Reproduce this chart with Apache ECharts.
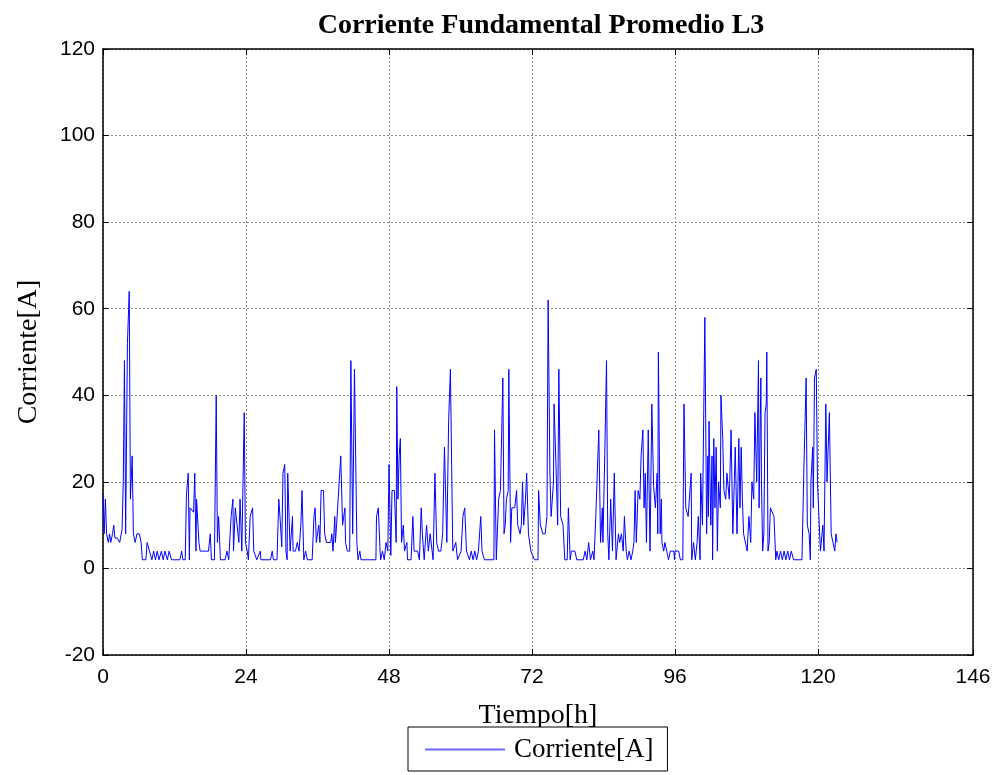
<!DOCTYPE html>
<html>
<head>
<meta charset="utf-8">
<script src="https://cdn.jsdelivr.net/npm/echarts@6/dist/echarts.min.js"></script>
<style>
html, body { margin: 0; padding: 0; background: #fff; }
#echarts { width: 998px; height: 775px; }
</style>
</head>
<body>
<div id="echarts"></div>
<script>
// datos: [tiempo h, corriente A]
var corriente = [
[0,17],[0.2,8],[0.4,16],[0.6,8],[0.9,6],[1.1,8],[1.3,6],[1.6,8],[1.8,10],[2.0,7],[2.4,7],[2.8,6],[3.2,9],[3.4,20],[3.6,48],[3.8,8],[4.1,52],[4.4,64],[4.6,16],[4.9,26],[5.1,8],[5.4,6],[5.7,8],[6.1,8],[6.4,6],[6.6,2],
[6.8,2],[7.2,2],[7.4,6],[7.8,4],[8.2,2],[8.5,4],[8.8,2],[9.1,4],[9.4,2],[9.8,4],[10.1,2],[10.4,4],[10.8,2],[11.1,4],[11.5,2],[12.0,2],[12.9,2],[13.2,4],[13.4,2],[13.8,2],
[14.0,17],[14.3,22],[14.5,2],[14.6,14],[14.9,14],[15.2,13],[15.4,22],[15.6,4],[15.7,16],[16.1,6],[16.3,4],[17.7,4],[18.0,8],[18.2,2],[18.7,2],[19.0,40],[19.2,6],[19.4,12],[19.7,2],
[20.5,2],[20.8,4],[21.1,2],[21.5,12],[21.8,16],[21.9,4],[22.2,14],[22.5,14],[22.8,6],[23.0,16],[23.3,4],[23.7,36],[23.9,6],[24.2,4],[24.4,2],[24.7,12],[25.1,14],[25.3,4],[25.8,2],
[26.4,4],[26.5,2],[28.1,2],[28.4,4],[28.6,2],[29.2,2],[29.5,16],[29.7,12],[30.0,5],[30.2,22],[30.5,24],[30.7,4],[30.9,2],[31.0,22],[31.4,4],[31.8,12],[31.9,4],[32.3,4],[32.6,6],[32.9,4],
[33.2,10],[33.4,18],[33.7,2],[34.0,4],[34.3,2],[35.1,2],[35.4,12],[35.6,14],[35.8,6],[36.0,8],[36.2,10],[36.4,6],[36.6,18],[37.0,18],[37.2,8],[37.5,6],[38.2,6],[38.4,8],[38.6,4],
[38.9,12],[39.0,6],[39.2,10],[39.5,10],[39.9,26],[40.2,10],[40.6,14],[40.7,6],[41.0,4],[41.4,4],[41.6,48],[41.9,8],[42.2,46],[42.6,6],[42.8,2],[43.1,4],[43.3,2],[45.8,2],[45.9,12],
[46.2,14],[46.5,4],[46.6,2],[46.9,4],[47.2,2],[47.5,6],[47.8,4],[48.0,24],[48.3,3],[48.5,18],[48.9,18],[49.2,6],[49.3,42],[49.5,16],[49.7,26],[49.9,30],[50.1,6],[50.4,10],[50.6,4],
[51.0,6],[51.1,2],[51.7,2],[52.0,12],[52.2,4],[52.8,4],[53.1,2],[53.4,14],[53.6,8],[53.9,2],[54.3,10],[54.6,4],[54.9,8],[55.2,8],[55.4,2],[55.7,22],[56.0,6],[56.3,4],[56.7,4],
[57.0,8],[57.3,28],[57.7,6],[58.0,34],[58.3,46],[58.7,4],[58.9,4],[59.2,6],[59.5,2],[60.1,4],[60.4,12],[60.7,14],[61.0,4],[61.5,2],[61.8,4],[62.1,2],[62.4,4],[62.7,2],[63.0,4],
[63.4,12],[63.6,4],[64.0,2],[65.6,2],[65.7,32],[66.0,2],[66.4,16],[66.7,18],[67.1,44],[67.3,8],[67.5,10],[67.7,16],[68.0,18],[68.1,46],[68.4,6],[68.6,14],[69.1,14],[69.4,18],
[69.6,10],[70.0,8],[70.2,10],[70.4,20],[70.6,10],[70.9,16],[71.1,22],[71.4,8],[71.8,4],[72.1,4],[72.4,2],[73.0,2],[73.1,18],[73.4,10],[73.8,8],[74.2,8],[74.5,12],[74.7,62],
[75.0,22],[75.2,12],[75.6,20],[75.7,38],[76.1,20],[76.3,10],[76.5,46],[76.8,12],[77.0,12],[77.2,10],[77.5,2],[77.9,2],[78.1,14],[78.4,2],[78.6,4],[79.2,4],[79.5,2],[80.6,2],
[80.9,4],[81.2,2],[81.5,6],[81.8,2],[82.2,4],[82.4,2],[82.7,12],[83.0,12],[83.2,32],[83.5,6],[83.8,14],[83.9,6],[84.2,26],[84.5,48],[84.7,8],[84.9,2],[85.2,16],[85.5,4],
[85.8,22],[86.1,2],[86.3,2],[86.5,8],[86.7,6],[87.0,8],[87.3,4],[87.5,12],[87.8,4],[88.0,2],[88.3,4],[88.6,2],[88.9,4],[89.1,6],[89.3,18],[89.5,6],[89.8,18],[90.1,16],[90.3,26],
[90.6,32],[90.8,14],[91.0,22],[91.2,6],[91.5,32],[91.8,4],[92.1,38],[92.4,19],[92.7,14],[93.0,22],[93.1,8],[93.2,50],[93.5,8],[93.7,16],[93.8,6],[94.1,4],[94.3,6],[94.6,4],
[94.9,2],[95.2,4],[95.8,4],[95.9,2],[96.0,4],[96.6,4],[96.9,2],[97.3,2],[97.5,38],[97.8,14],[98.2,12],[98.7,22],[98.8,2],[99.1,6],[99.4,2],[99.7,6],[99.9,12],[100.2,2],[100.3,22],
[100.6,10],[101.0,58],[101.3,8],[101.5,26],[101.6,12],[101.7,34],[102.0,10],[102.2,26],[102.3,2],[102.5,30],[102.7,14],[102.9,28],[103.1,4],[103.3,20],[103.6,14],[103.7,40],
[104.0,30],[104.2,18],[104.5,16],[104.7,22],[105.1,16],[105.4,32],[105.7,8],[106.0,8],[106.1,28],[106.4,8],[106.7,30],[106.9,14],[107.1,28],[107.3,16],[107.5,8],[108.1,4],
[108.4,12],[108.7,6],[108.9,20],[109.2,16],[109.4,36],[109.7,20],[110.0,48],[110.1,14],[110.4,44],[110.5,20],[110.7,4],[110.9,8],[111.1,36],[111.3,38],[111.4,50],[111.6,4],
[111.8,6],[112.0,14],[112.3,14],[112.6,12],[112.9,2],[113.1,4],[113.4,2],[113.7,4],[114.0,2],[114.3,4],[114.6,2],[114.9,4],[115.2,2],[115.5,4],[115.9,2],[117.3,2],[117.6,22],
[118.0,44],[118.2,10],[118.5,8],[118.7,2],[118.8,20],[119.1,28],[119.2,14],[119.4,44],[119.7,46],[119.9,20],[120.2,10],[120.4,4],[120.8,10],[121.0,4],[121.3,38],[121.5,20],
[121.9,36],[122.2,8],[122.5,6],[122.8,4],[123.0,8],[123.2,6]
];
var xTicks = [0, 24, 48, 72, 96, 120, 146];
var yMin = -20, yMax = 120, yStep = 20;

var myChart = echarts.init(document.getElementById('echarts'));
var serif = '"Liberation Serif", "Times New Roman", serif';
var sans = '"Liberation Sans", Arial, sans-serif';
var gridLine = { show: true, lineStyle: { color: '#8c8c8c', type: [2, 2], width: 1 } };

option = {
    animation: false,
    title: {
        text: 'Corriente Fundamental Promedio L3',
        left: 536, top: 7, textAlign: 'center',
        textStyle: { fontFamily: serif, fontWeight: 'bold', fontSize: 28, color: '#000' }
    },
    legend: {
        data: ['Corriente[A]'],
        left: 408, top: 727,
        orient: 'horizontal',
        itemWidth: 80, itemHeight: 2,
        itemGap: 0,
        padding: [9, 14, 8, 17],
        borderColor: '#000', borderWidth: 1,
        backgroundColor: '#fff',
        icon: 'rect',
        itemStyle: { color: '#6a6aff' },
        textStyle: { fontFamily: serif, fontSize: 27, color: '#000', padding: [0, 0, 0, 4] }
    },
    grid: { left: 103, right: 25, top: 49, bottom: 120, containLabel: false },
    xAxis: [
    {
        type: 'value', min: 0, max: 146,
        name: 'Tiempo[h]', nameLocation: 'middle', nameGap: 47,
        nameTextStyle: { fontFamily: serif, fontSize: 28, color: '#000' },
        axisLine: { show: true, onZero: false, lineStyle: { color: '#000', width: 1.5 } },
        axisTick: { show: true, inside: true, length: 6, customValues: xTicks, lineStyle: { color: '#000' } },
        axisLabel: { customValues: xTicks, margin: 12, fontFamily: sans, fontSize: 21, color: '#000' },
        splitLine: gridLine
    },
    {
        type: 'value', min: 0, max: 146, position: 'top',
        axisLine: { show: true, onZero: false, lineStyle: { color: '#000', width: 1.5 } },
        axisTick: { show: true, inside: true, length: 6, customValues: xTicks, lineStyle: { color: '#000' } },
        axisLabel: { show: false },
        splitLine: { show: false }
    }
    ],
    yAxis: [
    {
        type: 'value', min: yMin, max: yMax, interval: yStep,
        name: 'Corriente[A]', nameLocation: 'middle', nameGap: 60,
        nameTextStyle: { fontFamily: serif, fontSize: 28, color: '#000' },
        axisLine: { show: true, onZero: false, lineStyle: { color: '#000', width: 1.5 } },
        axisTick: { show: true, inside: true, length: 6, lineStyle: { color: '#000' } },
        axisLabel: { margin: 8, fontFamily: sans, fontSize: 21, color: '#000' },
        splitLine: gridLine
    },
    {
        type: 'value', min: yMin, max: yMax, interval: yStep, position: 'right',
        axisLine: { show: true, onZero: false, lineStyle: { color: '#000', width: 1.5 } },
        axisTick: { show: true, inside: true, length: 6, lineStyle: { color: '#000' } },
        axisLabel: { show: false },
        splitLine: { show: false }
    }
    ],
    series: [
    {
        name: 'Corriente[A]',
        type: 'line',
        showSymbol: false,
        symbol: 'none',
        color: '#0000ff',
        lineStyle: { color: '#0000ff', width: 1 },
        data: corriente
    }
    ]
};
myChart.setOption(option);
</script>
</body>
</html>
